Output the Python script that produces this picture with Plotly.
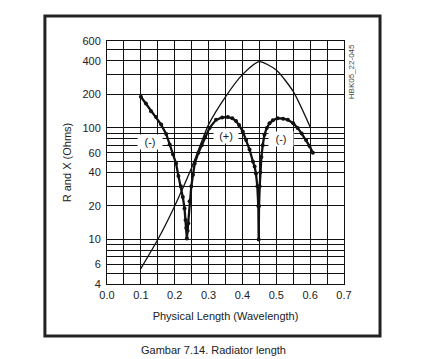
import math
import plotly.graph_objects as go

# R (resistance) thin curve
r_x = [0.10, 0.15, 0.20, 0.25, 0.30, 0.35, 0.40, 0.45, 0.50, 0.55, 0.60]
r_y = [5.5, 10, 20, 44, 107, 190, 300, 392, 330, 212, 102]

# X (reactance) thick dotted curve
x_x = [0.100, 0.115, 0.130, 0.145, 0.160, 0.175, 0.185, 0.195, 0.204, 0.211, 0.218,
       0.224, 0.229, 0.232, 0.234, 0.236, 0.238, 0.240, 0.244, 0.249, 0.254, 0.259,
       0.270, 0.280, 0.290, 0.303, 0.322, 0.340, 0.357, 0.370, 0.381, 0.390, 0.401,
       0.411, 0.421, 0.431, 0.436, 0.440, 0.444, 0.447, 0.448, 0.449, 0.451, 0.453,
       0.456, 0.460, 0.465, 0.472, 0.480, 0.490, 0.504, 0.520, 0.534, 0.550, 0.563,
       0.575, 0.588, 0.598, 0.608]
x_y = [190, 165, 141, 125, 107, 88, 71, 58, 48, 37, 30,
       24, 19, 15, 12.7, 10.2, 12, 14, 22, 30, 38, 48,
       60, 70, 83, 100, 118, 124, 125, 122, 115, 106, 93,
       78, 64, 50, 45, 39, 30, 20, 10, 20, 30, 40,
       55, 70, 87, 100, 110, 117, 122, 121, 118, 110, 100,
       89, 78, 69, 60]

x_ticks = [round(i * 0.05, 2) for i in range(15)]
x_labels = ["0.0", "", "0.1", "", "0.2", "", "0.3", "", "0.4", "", "0.5", "", "0.6", "", "0.7"]
y_grid = [4, 5, 6, 7, 8, 9, 10, 20, 30, 40, 50, 60, 70, 80, 90, 100, 200, 300, 400, 500, 600]
y_labeled = {4: "4", 6: "6", 10: "10", 20: "20", 40: "40", 60: "60", 100: "100",
             200: "200", 400: "400", 600: "600"}
y_labels = [y_labeled.get(v, "") for v in y_grid]

sign_labels = ["(-)", "(+)", "(-)"]
sign_x = [0.126, 0.351, 0.514]
sign_y = [75, 84, 79]

FONT = "Liberation Sans, Arial, sans-serif"

fig = go.Figure()
fig.add_trace(go.Scatter(x=r_x, y=r_y, mode="lines",
                         line=dict(color="#111", width=1.3, shape="spline", smoothing=0.6),
                         showlegend=False, hoverinfo="skip"))
fig.add_trace(go.Scatter(x=x_x, y=x_y, mode="lines+markers", line=dict(color="#111", width=2.3),
                         marker=dict(color="#111", size=4), showlegend=False, hoverinfo="skip"))

for t, sx, sy in zip(sign_labels, sign_x, sign_y):
    fig.add_annotation(x=sx, y=math.log10(sy), xref="x", yref="y", text=t, showarrow=False,
                       bgcolor="white", font=dict(family=FONT, size=11, color="#222"),
                       borderpad=1, width=22)

fig.add_annotation(xref="paper", yref="paper", x=1.03, y=0.872, xanchor="center", yanchor="middle",
                   text="HBK05_22-045", textangle=-90,
                   showarrow=False, font=dict(family=FONT, size=8, color="#444"))
fig.add_annotation(xref="paper", yref="paper", x=0.45, y=-0.272, xanchor="center", yanchor="middle",
                   text="Gambar 7.14. Radiator length",
                   showarrow=False, font=dict(family=FONT, size=11, color="#222"))

# outer frame
fig.add_shape(type="rect", xref="paper", yref="paper", x0=-0.262, x1=1.152, y0=-0.214, y1=1.103,
              line=dict(color="#222", width=3), fillcolor="rgba(0,0,0,0)")

fig.update_xaxes(range=[0, 0.7], tickvals=x_ticks, ticktext=x_labels, showgrid=True,
                 gridcolor="#111", gridwidth=1, showline=True, linecolor="#111", mirror=True,
                 zeroline=False, ticks="", automargin=False, ticklabelstandoff=1,
                 tickfont=dict(family=FONT, size=11, color="#222"),
                 title=dict(text="Physical Length (Wavelength)", font=dict(family=FONT, size=11, color="#222"),
                            standoff=12))
fig.update_yaxes(type="log", range=[0.60206, 2.77815], tickvals=y_grid, ticktext=y_labels, showgrid=True,
                 gridcolor="#111", gridwidth=1, showline=True, linecolor="#111", mirror=True,
                 zeroline=False, ticks="", automargin=False, ticklabelstandoff=3,
                 tickfont=dict(family=FONT, size=11, color="#222"),
                 title=dict(text="R and X (Ohms)", font=dict(family=FONT, size=11, color="#222"), standoff=8))

fig.update_layout(width=441, height=359, margin=dict(l=99, r=105, t=33, b=83),
                  paper_bgcolor="white", plot_bgcolor="white")

fig.write_html("out.html")
